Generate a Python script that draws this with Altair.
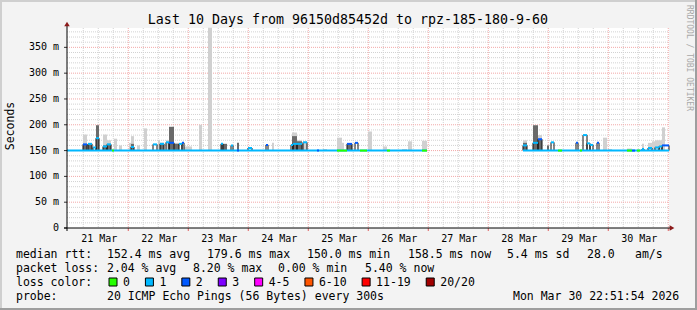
import altair as alt
import pandas as pd

# ---------------- chart values ----------------
title_text = "Last 10 Days from 96150d85452d to rpz-185-180-9-60"
y_title_text = "Seconds"
credit_text = "RRDTOOL / TOBI OETIKER"

y_tick_ms = [0, 50, 100, 150, 200, 250, 300, 350]
y_tick_text = ["0\u00a0\u00a0", "50 m", "100 m", "150 m", "200 m", "250 m", "300 m", "350 m"]
day_text = ["21 Mar", "22 Mar", "23 Mar", "24 Mar", "25 Mar",
            "26 Mar", "27 Mar", "28 Mar", "29 Mar", "30 Mar"]
# midnight positions, hours after the start of the graph
midnight_h = [24.5, 48.5, 72.5, 96.5, 120.5, 144.5, 168.5, 192.5, 216.5, 240.5]

# periods in which the median line is drawn (hours), level in ms
span_start = [0.0, 182.4]
span_end = [144.0, 240.8]
span_ms = [150.0, 150.0]

# median rtt pieces: start hour, end hour, ms, loss class
med_start = [6.4, 8.4, 10.4, 11.6, 14.4, 16.0, 18.0, 25.6, 34.4, 37.2, 39.6, 40.8, 44.8, 46.0,
             61.6, 65.6, 68.0, 72.4, 79.6, 89.6, 90.4, 92.0, 94.4, 100.0, 108.0, 112.0, 115.2,
             117.2, 128.0, 142.0, 182.4, 186.4, 188.4, 193.6, 196.4, 203.6, 205.2, 206.4, 208.0,
             209.2, 212.0, 224.0, 226.0, 228.0, 230.0, 232.4, 235.2, 236.8, 238.0]
med_end = [8.0, 10.0, 11.6, 12.8, 16.0, 17.6, 18.8, 26.8, 36.0, 38.8, 40.8, 42.8, 46.0, 46.8,
           62.4, 66.4, 68.8, 74.0, 80.4, 90.4, 92.0, 94.0, 96.0, 100.8, 112.0, 114.0, 116.4,
           120.0, 129.2, 144.0, 184.0, 188.4, 190.0, 194.8, 198.0, 204.4, 206.0, 208.0, 209.2,
           210.4, 212.8, 226.0, 227.2, 229.2, 230.8, 234.0, 236.8, 238.0, 240.8]
med_ms = [162, 163, 156, 174, 158, 162, 150, 157, 162, 163, 166, 165, 163, 165,
          163, 160, 150, 155, 161, 161, 163, 163, 166, 150, 150, 163, 165,
          150, 150, 150, 160, 165, 172, 166, 150, 165, 150, 180, 164,
          161, 165, 150, 150, 150, 153, 155, 156, 158, 160]
med_loss = ["2", "1", "1", "1", "1", "1", "0", "1", "1", "1", "1", "2", "1", "2",
            "1", "1", "2", "1", "2", "1", "1", "1", "1", "2", "0", "2", "2",
            "0", "0", "0", "1", "1", "2", "1", "0", "2", "0", "1", "1",
            "1", "2", "0", "2", "0", "1", "1", "1", "1", "2"]

# outer smoke (light gray): start hour, end hour, top ms
smoke_start = [6.4, 8.4, 11.6, 14.4, 16.0, 18.8, 20.8, 24.8, 25.6, 28.0, 30.8, 36.4, 39.6, 40.8,
               42.8, 46.8, 52.8, 56.4, 62.4, 82.0, 90.0, 92.0, 94.4, 102.4, 108.0, 110.0, 120.4,
               126.4, 134.0, 136.4, 142.0, 182.4, 186.4, 188.4, 192.0, 214.4, 216.4, 224.0,
               230.0, 232.4, 234.0, 235.2, 238.0]
smoke_end = [8.0, 10.0, 12.8, 16.0, 17.6, 20.0, 22.0, 26.0, 26.8, 29.2, 32.0, 37.2, 40.8, 42.8,
             44.8, 50.0, 54.0, 58.0, 64.0, 82.8, 92.0, 94.0, 96.0, 104.0, 110.0, 110.8, 122.0,
             128.0, 136.0, 138.0, 144.0, 184.0, 188.4, 190.0, 192.8, 216.0, 218.0, 226.0,
             230.8, 234.0, 235.2, 238.0, 239.2]
smoke_ms = [181, 165, 199, 181, 170, 173, 160, 165, 178, 160, 193, 170, 170, 196,
            165, 158, 200, 388, 163, 165, 185, 170, 168, 153, 175, 165, 187,
            158, 153, 168, 169, 170, 199, 180, 160, 175, 153, 154,
            163, 165, 168, 170, 195]

# inner smoke (dark gray): start hour, end hour, top ms
core_start = [6.4, 8.4, 11.6, 14.4, 16.0, 25.6, 37.2, 40.8, 42.8, 61.6, 62.4, 68.0, 90.0, 92.0,
              112.0, 182.4, 186.4, 188.4, 192.0]
core_end = [8.0, 10.0, 12.8, 16.0, 17.6, 26.8, 38.8, 42.8, 44.8, 62.4, 64.0, 68.8, 92.0, 94.0,
            114.0, 184.0, 188.4, 190.0, 192.8]
core_ms = [162, 163, 199, 160, 163, 163, 165, 196, 163, 163, 163, 165, 178, 168,
           163, 165, 199, 172, 160]

loss_classes = ["0", "1", "2", "3", "4-5", "6-10", "11-19", "20/20"]
loss_colors = ["#26ff00", "#00b8ff", "#0059ff", "#7e00ff", "#ff00ff", "#ff5500", "#ff0000", "#a10000"]

rtt_head = "median rtt:"
rtt_stats = ["152.4 ms avg", "179.6 ms max", "150.0 ms min", "158.5 ms now", "5.4 ms sd", "28.0", "am/s"]
loss_head = "packet loss:"
loss_stats = ["2.04 % avg", "8.20 % max", "0.00 % min", "5.40 % now"]
color_head = "loss color:"
probe_head = "probe:"
probe_text = "20 ICMP Echo Pings (56 Bytes) every 300s"
stamp_text = "Mon Mar 30 22:51:54 2026"

# ---------------- layout ----------------
X0, Y0 = 67, 28          # plot origin in the picture
W, H = 602, 200
XMAX, YMAX = 240.8, 387.5
MONO = "DejaVu Sans Mono"
xs = alt.Scale(domain=[0, XMAX], nice=False, zero=False)
ys = alt.Scale(domain=[0, YMAX], nice=False, zero=False)

rtt_x = [107, 207, 307, 408, 507, 587, 635]
loss_x = [107, 193, 278, 365]
row_base = [258.3, 272.3, 286.3, 300.3]
swatch_x = []
cx = 109.0
for lab in loss_classes:
    swatch_x.append(cx)
    cx += 14 + len(lab) * 6.92 + 15.5

layers = []

# grid
minor_y = [v for v in range(10, 390, 10) if v % 50]
major_y = [v for v in range(50, 390, 50)]
minor_x = [m + d for m in [0.5] + midnight_h for d in (6, 12, 18) if 0 < m + d < XMAX]
minor_x = [v for v in minor_x if v not in midnight_h]

layers.append(alt.Chart(pd.DataFrame({"v": minor_y})).mark_rule(
    color="#d2d2d2", strokeWidth=1, strokeDash=[1, 1]).encode(
    y=alt.Y("v:Q", scale=ys, axis=None), x=alt.value(0), x2=alt.value(W)))
layers.append(alt.Chart(pd.DataFrame({"h": minor_x})).mark_rule(
    color="#d2d2d2", strokeWidth=1, strokeDash=[1, 1]).encode(
    x=alt.X("h:Q", scale=xs, axis=None), y=alt.value(0), y2=alt.value(H)))
layers.append(alt.Chart(pd.DataFrame({"v": major_y})).mark_rule(
    color="#f2a8a8", strokeWidth=1, strokeDash=[1, 1]).encode(
    y=alt.Y("v:Q", scale=ys, axis=None), x=alt.value(0), x2=alt.value(W)))
layers.append(alt.Chart(pd.DataFrame({"h": midnight_h})).mark_rule(
    color="#f2a8a8", strokeWidth=1, strokeDash=[1, 1]).encode(
    x=alt.X("h:Q", scale=xs, axis=None), y=alt.value(0), y2=alt.value(H)))

# smoke
smoke_df = pd.DataFrame({"s": smoke_start, "e": smoke_end, "top": smoke_ms, "lo": 150.0})
layers.append(alt.Chart(smoke_df).mark_rect(color="#d0d0d0").encode(
    x=alt.X("s:Q", scale=xs, axis=None), x2="e:Q",
    y=alt.Y("top:Q", scale=ys, axis=None), y2="lo:Q"))
core_df = pd.DataFrame({"s": core_start, "e": core_end, "top": core_ms, "lo": 150.0})
layers.append(alt.Chart(core_df).mark_rect(color="#6a6a6a").encode(
    x=alt.X("s:Q", scale=xs, axis=None), x2="e:Q",
    y=alt.Y("top:Q", scale=ys, axis=None), y2="lo:Q"))

# median line
med_df = pd.DataFrame({"s": med_start, "e": med_end, "ms": med_ms, "cls": med_loss, "lo": 150.0})
for edge in ("s", "e"):
    layers.append(alt.Chart(med_df).mark_rule(color="#111111", strokeWidth=1).encode(
        x=alt.X(f"{edge}:Q", scale=xs, axis=None),
        y=alt.Y("ms:Q", scale=ys, axis=None), y2="lo:Q"))
span_df = pd.DataFrame({"s": span_start, "e": span_end, "ms": span_ms})
layers.append(alt.Chart(span_df).mark_rule(color=loss_colors[1], strokeWidth=2, strokeCap="butt").encode(
    x=alt.X("s:Q", scale=xs, axis=None), x2="e:Q",
    y=alt.Y("ms:Q", scale=ys, axis=None)))
layers.append(alt.Chart(med_df).mark_rule(strokeWidth=2, strokeCap="butt").encode(
    x=alt.X("s:Q", scale=xs, axis=None), x2="e:Q",
    y=alt.Y("ms:Q", scale=ys, axis=None),
    color=alt.Color("cls:N", scale=alt.Scale(domain=loss_classes, range=loss_colors), legend=None)))

# axes
layers.append(alt.Chart(pd.DataFrame({"v": y_tick_ms, "t": y_tick_text})).mark_rule(
    color="#333333").encode(y=alt.Y("v:Q", scale=ys, axis=None), x=alt.value(-3), x2=alt.value(0)))
layers.append(alt.Chart(pd.DataFrame({"v": y_tick_ms, "t": y_tick_text})).mark_text(
    font=MONO, fontSize=10, align="right", baseline="middle", color="#000000").encode(
    y=alt.Y("v:Q", scale=ys, axis=None), x=alt.value(-8), text="t:N"))
layers.append(alt.Chart(pd.DataFrame({"h": midnight_h})).mark_rule(color="#e06060").encode(
    x=alt.X("h:Q", scale=xs, axis=None), y=alt.value(H), y2=alt.value(H + 3)))
layers.append(alt.Chart(pd.DataFrame({"h": [m - 11.6 for m in midnight_h], "t": day_text})).mark_text(
    font=MONO, fontSize=10, align="center", baseline="middle", color="#000000").encode(
    x=alt.X("h:Q", scale=xs, axis=None), y=alt.value(H + 11), text="t:N"))
layers.append(alt.Chart(pd.DataFrame({"a": [0]})).mark_rule(color="#000000").encode(
    x=alt.value(0), y=alt.value(H + 3), y2=alt.value(-4)))
layers.append(alt.Chart(pd.DataFrame({"a": [0]})).mark_rule(color="#000000").encode(
    x=alt.value(-3), x2=alt.value(W + 2), y=alt.value(H)))
layers.append(alt.Chart(pd.DataFrame({"a": [0]})).mark_point(
    shape="triangle-up", filled=True, color="#8b1a1a", size=30, opacity=1).encode(
    x=alt.value(0), y=alt.value(-4)))
layers.append(alt.Chart(pd.DataFrame({"a": [0]})).mark_point(
    shape="triangle-right", filled=True, color="#8b1a1a", size=30, opacity=1).encode(
    x=alt.value(W + 3), y=alt.value(H)))


def txt(s, x, y, size=11.5, **kw):
    return alt.Chart(pd.DataFrame({"t": [s]})).mark_text(
        font=MONO, fontSize=size, color=kw.pop("color", "#000000"),
        align=kw.pop("align", "left"), baseline=kw.pop("baseline", "alphabetic"), **kw).encode(
        x=alt.value(x - X0), y=alt.value(y - Y0), text="t:N")


layers.append(txt(title_text, 348, 24, size=13.3, align="center"))
layers.append(txt(y_title_text, 11, 126, size=11.5, angle=270, align="center", baseline="middle"))
layers.append(txt(credit_text, 689, 5, size=8, angle=90, baseline="middle", color="#a8a8a8"))

layers.append(txt(rtt_head, 16, row_base[0]))
for s, x in zip(rtt_stats, rtt_x):
    layers.append(txt(s, x, row_base[0]))
layers.append(txt(loss_head, 16, row_base[1]))
for s, x in zip(loss_stats, loss_x):
    layers.append(txt(s, x, row_base[1]))
layers.append(txt(color_head, 16, row_base[2]))
for lab, col, x in zip(loss_classes, loss_colors, swatch_x):
    layers.append(alt.Chart(pd.DataFrame({"a": [0]})).mark_rect(
        color=col, stroke="#000000", strokeWidth=1).encode(
        x=alt.value(x - X0), x2=alt.value(x + 8 - X0),
        y=alt.value(278 - Y0), y2=alt.value(286 - Y0)))
    layers.append(txt(lab, x + 14, row_base[2]))
layers.append(txt(probe_head, 16, row_base[3]))
layers.append(txt(probe_text, 107, row_base[3]))
layers.append(txt(stamp_text, 513, row_base[3]))

# picture frame
for (xa, xb, ya, yb, col) in [(0, 697, 0, 2, "#cfcfcf"), (0, 2, 0, 310, "#cfcfcf"),
                              (695, 697, 0, 310, "#9e9e9e"), (0, 697, 308, 310, "#9e9e9e")]:
    layers.append(alt.Chart(pd.DataFrame({"a": [0]})).mark_rect(color=col).encode(
        x=alt.value(xa - X0), x2=alt.value(xb - X0), y=alt.value(ya - Y0), y2=alt.value(yb - Y0)))

chart = alt.layer(*layers).properties(
    width=W, height=H,
    autosize=alt.AutoSizeParams(type="none"),
    padding={"left": X0, "top": Y0, "right": 697 - X0 - W, "bottom": 310 - Y0 - H},
    background="#f3f3f3",
).configure_view(fill="#ffffff", stroke=None)

chart.save("out.html", embed_options={"renderer": "svg", "actions": False})
